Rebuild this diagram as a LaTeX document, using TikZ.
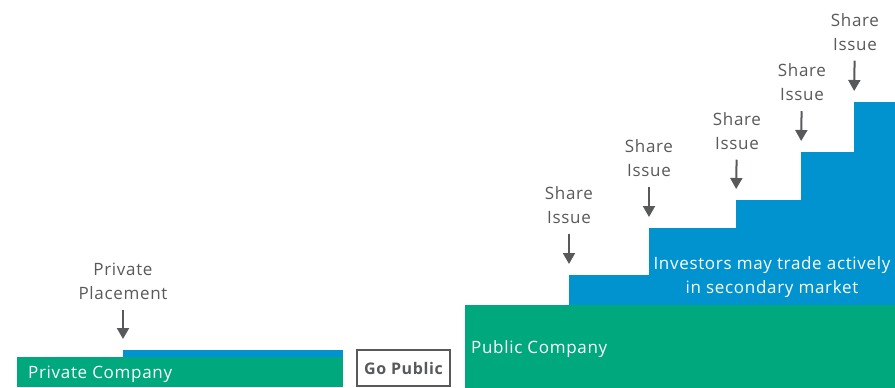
\documentclass[tikz,border=0pt]{standalone}
\usepackage{fontspec}
\setmainfont{Open Sans}[LetterSpace=4]
\usetikzlibrary{arrows.meta,positioning}
\definecolor{stepgreen}{HTML}{00A87E}
\definecolor{stepblue}{HTML}{0093D0}
\definecolor{labelgrey}{HTML}{58595B}

\begin{document}
\begin{tikzpicture}[x=1pt, y=-1pt, >={Triangle[width=12pt,length=11pt]},
    block/.style={rectangle, fill=#1, draw=none, inner sep=0pt, anchor=north west},
    issue/.style={align=center, inner sep=0pt, text=labelgrey, font=\fontsize{17}{24}\selectfont},
    inside/.style={text=white, inner sep=0pt, font=\fontsize{17}{24}\selectfont},
    pointer/.style={->, line width=2pt, labelgrey, shorten <=10pt, shorten >=11pt}]
      \useasboundingbox (0,0) rectangle (895,388);

      % Private side
      \node[block=stepblue, minimum width=220pt, minimum height=10pt] (placed) at (123,350) {};
      \node[block=stepgreen, minimum width=326pt, minimum height=30pt] (private) at (17,357) {};
      \node[inside, anchor=west] (privtext) at (28,374) {Private Company};
      \node[issue] (placement) at (123,281) {Private\\Placement};
      \draw[pointer] (placement) -- (placed.north west);

      % Go public
      \node[draw=labelgrey, line width=2pt, text=labelgrey, minimum width=93pt, minimum height=36pt, inner sep=0pt, font=\fontsize{16}{24}\selectfont\bfseries] (gopublic) at (403.5,368) {Go Public};

      % Public side: share issues as steps
      \node[block=stepblue, minimum width=326pt, minimum height=30pt] (step1) at (569,275) {};
      \node[block=stepblue, minimum width=246pt, minimum height=77pt] (step2) at (649,228) {};
      \node[block=stepblue, minimum width=159pt, minimum height=105pt] (step3) at (736,200) {};
      \node[block=stepblue, minimum width=94pt, minimum height=153pt] (step4) at (801,152) {};
      \node[block=stepblue, minimum width=41pt, minimum height=203pt] (step5) at (854,102) {};
      \node[block=stepgreen, minimum width=430pt, minimum height=83pt] (public) at (465,305) {};
      \node[inside, anchor=west] (pubtext) at (471,349) {Public Company};
      \node[inside, align=center] (trade) at (772,277) {Investors may trade actively\\in secondary market};

      \node[issue] (issue1) at (569,205) {Share\\Issue};
      \node[issue] (issue2) at (649,158) {Share\\Issue};
      \node[issue] (issue3) at (737,131) {Share\\Issue};
      \node[issue] (issue4) at (802,82.5) {Share\\Issue};
      \node[issue] (issue5) at (855,32) {Share\\Issue};
      \draw[pointer] (issue1) -- (step1.north west);
      \draw[pointer] (issue2) -- (step2.north west);
      \draw[pointer] (issue3) -- (step3.north west);
      \draw[pointer] (issue4) -- (step4.north west);
      \draw[pointer] (issue5) -- (step5.north west);
\end{tikzpicture}
\end{document}
